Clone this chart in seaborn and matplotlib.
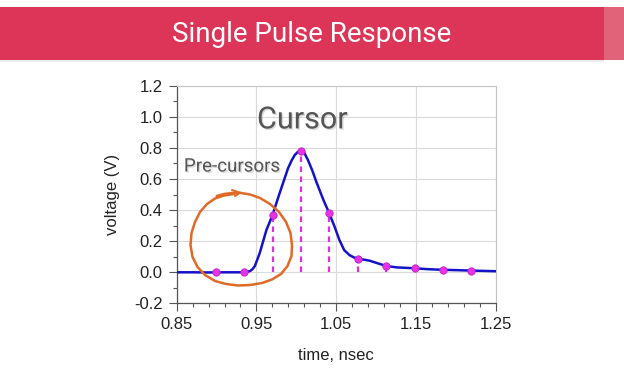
import numpy as np
import matplotlib
matplotlib.use("Agg")
import matplotlib.pyplot as plt
import matplotlib.patheffects as pe
from matplotlib.patches import Rectangle
from matplotlib.transforms import Affine2D
import pandas as pd
import seaborn as sns

# pulse response (time in ns, voltage in V)
curve_t = [0.850, 0.870, 0.890, 0.910, 0.930, 0.938, 0.942, 0.945, 0.948, 0.954,
           0.9625, 0.970, 0.979, 0.9896, 0.994, 0.998, 1.002, 1.006, 1.010,
           1.0146, 1.020, 1.025, 1.034, 1.041, 1.048, 1.054, 1.060, 1.0666,
           1.072, 1.077, 1.084, 1.0916, 1.102, 1.1125, 1.125, 1.136, 1.148,
           1.165, 1.184, 1.200, 1.219, 1.235, 1.250]
curve_v = [0.000, 0.000, -0.001, 0.000, 0.000, 0.002, 0.008, 0.020, 0.040, 0.122,
           0.272, 0.366, 0.508, 0.669, 0.718, 0.754, 0.775, 0.782, 0.768,
           0.722, 0.655, 0.583, 0.465, 0.383, 0.293, 0.208, 0.143, 0.111,
           0.096, 0.088, 0.082, 0.075, 0.058, 0.041, 0.032, 0.029, 0.026,
           0.020, 0.016, 0.014, 0.011, 0.009, 0.007]

# sampled cursors (one per UI)
cursor_t = [0.8988, 0.9346, 0.9703, 1.0058, 1.0412, 1.0770, 1.1125, 1.1482, 1.1838, 1.2195]
cursor_v = [0.000, 0.000, 0.366, 0.782, 0.383, 0.088, 0.041, 0.026, 0.017, 0.011]

xticks = [0.85, 0.95, 1.05, 1.15, 1.25]
xtick_labels = ["0.85", "0.95", "1.05", "1.15", "1.25"]
yticks = [-0.2, 0.0, 0.2, 0.4, 0.6, 0.8, 1.0, 1.2]
ytick_labels = ["-0.2", "0.0", "0.2", "0.4", "0.6", "0.8", "1.0", "1.2"]

# hand drawn loop around the pre-cursors, image pixel coords
loop_px = [(216.7, 196), (224, 194), (232, 193), (240, 192.8), (250, 194.5), (260, 198),
           (270, 204), (279, 212), (286, 222), (290.5, 233), (292, 245), (291.5, 256),
           (287.5, 266), (281, 274), (272, 279.5), (262, 283), (250, 285), (238, 285.5),
           (226, 284), (215, 281), (205, 275), (197.5, 267), (192.5, 257), (190.5, 245),
           (191.5, 233), (195, 222), (200, 212), (207, 204), (215, 198.5), (224, 195.5),
           (234, 194)]

sns.set_style("ticks")
plt.rcParams["font.family"] = ["Liberation Sans", "DejaVu Sans"]

fig = plt.figure(figsize=(6.24, 3.8), dpi=100)
fig.patch.set_facecolor("white")

# title band
fig.patches.append(Rectangle((0, 1 - 62 / 380), 604 / 624, 3 / 380, transform=fig.transFigure,
                             facecolor="#eeeeee", edgecolor="none", zorder=0))
fig.patches.append(Rectangle((0, 1 - 60 / 380), 604 / 624, 53 / 380, transform=fig.transFigure,
                             facecolor="#dc3558", edgecolor="none", zorder=0))
fig.patches.append(Rectangle((604 / 624, 1 - 60 / 380), 20 / 624, 53 / 380, transform=fig.transFigure,
                             facecolor="#e0637a", edgecolor="none", zorder=0))
fig.text(0.5, 1 - 34 / 380, "Single Pulse Response", ha="center", va="center",
         color="white", fontsize=20, family=["Roboto", "DejaVu Sans"])

ax = fig.add_axes([176.7 / 624, 76.6 / 380, 319 / 624, 217.7 / 380])

df = pd.DataFrame({"t": curve_t, "v": curve_v})
sns.lineplot(data=df, x="t", y="v", ax=ax, color="#1212c8", lw=1.8, estimator=None, zorder=3)

ax.vlines(cursor_t[2:], 0, cursor_v[2:], colors="#e030e0", linestyles=(0, (2.5, 2)), lw=1.6, zorder=2)
sns.scatterplot(x=cursor_t, y=cursor_v, ax=ax, color="#e533e5", edgecolor="#c020c8",
                s=28, linewidth=0.6, zorder=4)

ax.set_xlim(0.85, 1.25)
ax.set_ylim(-0.2, 1.2)
ax.set_xticks(xticks)
ax.set_xticklabels(xtick_labels)
ax.set_xticks(np.arange(0.85, 1.2501, 0.02), minor=True)
ax.set_yticks(yticks)
ax.set_yticklabels(ytick_labels)
ax.set_yticks(np.arange(-0.2, 1.2001, 0.1), minor=True)
ax.grid(True, which="major", color="#dadada", lw=0.8)
ax.tick_params(which="major", length=6, width=0.8, color="#555555", labelsize=12,
               labelcolor="#222222", pad=4)
ax.tick_params(which="minor", length=3, width=0.8, color="#555555")
for side in ["left", "bottom"]:
    ax.spines[side].set_color("#555555")
    ax.spines[side].set_linewidth(0.9)
for side in ["top", "right"]:
    ax.spines[side].set_visible(True)
    ax.spines[side].set_color("#c4c4c4")
    ax.spines[side].set_linewidth(0.8)

ax.set_xlabel("time, nsec", fontsize=12, color="#222222", labelpad=11)
ax.set_ylabel("voltage (V)", fontsize=12, color="#222222", labelpad=10)

shadow = [pe.SimplePatchShadow(offset=(1, -1), shadow_rgbFace="#999999", alpha=0.35), pe.Normal()]
ax.text(1.0075, 0.98, "Cursor", ha="center", va="center", fontsize=22, color="#555555",
        family=["Roboto", "DejaVu Sans"], path_effects=shadow, zorder=5)
ax.text(0.859, 0.68, "Pre-cursors", ha="left", va="center", fontsize=13.5, color="#555555",
        family=["Roboto", "DejaVu Sans"], path_effects=shadow, zorder=5)

# orange annotation loop drawn in pixel space
px_to_disp = Affine2D().scale(1, -1).translate(0, 380)
lx = [p[0] for p in loop_px]
ly = [p[1] for p in loop_px]
loop_line = plt.Line2D(lx, ly, transform=px_to_disp, color="#e06a28", lw=1.8,
                       solid_capstyle="round", solid_joinstyle="round")
fig.lines.append(loop_line)
tick_line = plt.Line2D([232, 240, 235], [190, 192.8, 196], transform=px_to_disp,
                       color="#e06a28", lw=1.5)
fig.lines.append(tick_line)

fig.savefig("out.png", dpi=100)
